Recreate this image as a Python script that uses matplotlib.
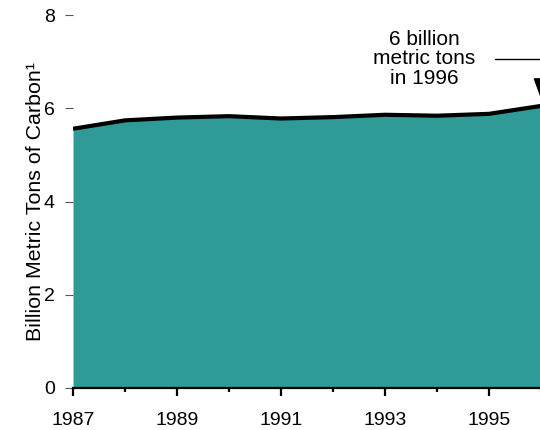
import matplotlib
matplotlib.use("Agg")
import matplotlib.pyplot as plt

plt.rcParams['font.family'] = ['Liberation Sans', 'DejaVu Sans']

# World carbon emissions, billion metric tons of carbon
years = [1987, 1988, 1989, 1990, 1991, 1992, 1993, 1994, 1995, 1996]
emissions = [5.56, 5.74, 5.80, 5.83, 5.78, 5.81, 5.86, 5.84, 5.88, 6.05]
year_ticks = [1987, 1989, 1991, 1993, 1995]
value_ticks = [0, 2, 4, 6, 8]

fill_color = '#2f9a96'
tick_fs = 14
label_fs = 15.4
note_fs = 15

fig = plt.figure(figsize=(5.4, 4.3), dpi=100)
ax = fig.add_axes([73 / 540, 1 - 388 / 430, 468 / 540, 373 / 430])

ax.fill_between(years, 0, emissions, color=fill_color, linewidth=0, zorder=1)
ax.plot(years, emissions, color='black', linewidth=3.0, solid_capstyle='butt', zorder=3)

ax.set_xlim(years[0], years[-1])
ax.set_ylim(value_ticks[0], value_ticks[-1])

for side in ('top', 'right', 'left'):
    ax.spines[side].set_visible(False)
ax.spines['bottom'].set_linewidth(1.6)
ax.spines['bottom'].set_zorder(4)

ax.set_xticks(year_ticks)
ax.set_xticks(years, minor=True)
ax.set_xticklabels([str(y) for y in year_ticks])
ax.tick_params(axis='x', which='major', length=6, width=1.6, direction='out',
               labelsize=tick_fs, pad=11, color='black')
ax.tick_params(axis='x', which='minor', length=3, width=1.6, direction='out',
               color='black')

ax.set_yticks(value_ticks)
ax.set_yticklabels([str(v) for v in value_ticks])
ax.tick_params(axis='y', length=6, width=0.8, color='#555555', labelsize=tick_fs, pad=7)

ax.set_ylabel('Billion Metric Tons of Carbon\u00b9', fontsize=label_fs, labelpad=-1)

ax.annotate('6 billion\nmetric tons\nin 1996',
            xy=(1996.02, 6.14), xycoords='data',
            xytext=(1993.75, 7.06), textcoords='data',
            ha='center', va='center', fontsize=note_fs, linespacing=1.05,
            annotation_clip=False,
            arrowprops=dict(arrowstyle='-|>,head_length=1.5,head_width=0.55',
                            connectionstyle='angle,angleA=0,angleB=90,rad=0',
                            color='black', linewidth=1.0, mutation_scale=10,
                            shrinkA=12, shrinkB=0))

fig.savefig('out.png', dpi=100)
